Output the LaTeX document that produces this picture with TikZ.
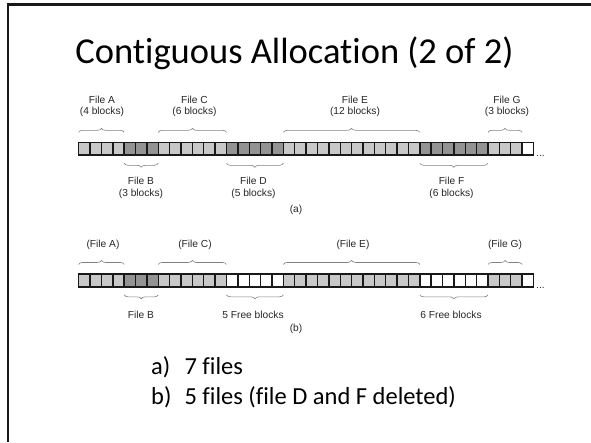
\documentclass[tikz,border=0pt]{standalone}
\usepackage{fontspec}
\setmainfont{Liberation Sans}
\newfontfamily\slidefont[Ligatures={NoCommon,NoRequired,NoContextual}]{Carlito}
\usetikzlibrary{decorations.pathreplacing}
\definecolor{fillL}{HTML}{C8C8C8}
\definecolor{fillD}{HTML}{939393}
\definecolor{fillW}{HTML}{FFFFFF}
\definecolor{bracegray}{HTML}{808080}
\begin{document}
\begin{tikzpicture}[x=1pt,y=-1pt,
  blk/.style={draw=black!90, line width=1.4pt, minimum width=11.37pt,
    minimum height=12.7pt, inner sep=0pt, outer sep=0pt},
  brc/.style={draw=bracegray, line width=0.6pt, decorate,
    decoration={brace, amplitude=4pt, raise=#1}},
  lbl/.style={font=\fontsize{10.2}{11.5}\selectfont, text=black!85,
    align=center, inner sep=0pt},
  bigtitle/.style={font=\slidefont\fontsize{36.5}{40}\selectfont, inner sep=0pt},
  bullet/.style={font=\slidefont\fontsize{24.5}{28}\selectfont, inner sep=0pt, anchor=base west}
]
\useasboundingbox (0,0) rectangle (591,442);

% slide frame
\draw[line width=2.4pt, black!90] (7.8,442) -- (7.8,4.5) -- (591,4.5);

% title
\node[bigtitle, anchor=base] (title) at (294.5,63.3) {Contiguous Allocation (2 of 2)};

% disk (a): seven files
\foreach \c [count=\i from 0] in {L,L,L,L,D,D,D,L,L,L,L,L,L,D,D,D,D,D,
    L,L,L,L,L,L,L,L,L,L,L,L,D,D,D,D,D,D,L,L,L,W}
  \node[blk, fill=fill\c] (a\i) at ({84.385+\i*11.37},148.65) {};
\node[lbl, anchor=base west] (adots) at (536,156.5) {...};

\draw[brc=10pt] (a0.north west) -- (a3.north east);
\draw[brc=10pt] (a7.north west) -- (a12.north east);
\draw[brc=10pt] (a18.north west) -- (a29.north east);
\draw[brc=10pt] (a36.north west) -- (a38.north east);
\draw[brc=8.3pt] (a6.south east) -- (a4.south west);
\draw[brc=8.3pt] (a17.south east) -- (a13.south west);
\draw[brc=8.3pt] (a35.south east) -- (a30.south west);

\node[lbl, anchor=south] (fA) at (102,117.3) {File A\\(4 blocks)};
\node[lbl, anchor=south] (fC) at (194.5,117.3) {File C\\(6 blocks)};
\node[lbl, anchor=south] (fE) at (355,117.3) {File E\\(12 blocks)};
\node[lbl, anchor=south] (fG) at (507,117.3) {File G\\(3 blocks)};
\node[lbl, anchor=north] (fB) at (141,177.3) {File B\\(3 blocks)};
\node[lbl, anchor=north] (fD) at (253.5,177.3) {File D\\(5 blocks)};
\node[lbl, anchor=north] (fF) at (451.5,177.3) {File F\\(6 blocks)};
\node[lbl] (capa) at (296,209.7) {(a)};

% disk (b): files D and F removed
\foreach \c [count=\i from 0] in {L,L,L,L,D,D,D,L,L,L,L,L,L,W,W,W,W,W,
    L,L,L,L,L,L,L,L,L,L,L,L,W,W,W,W,W,W,L,L,L,W}
  \node[blk, fill=fill\c] (b\i) at ({84.385+\i*11.37},280.5) {};
\node[lbl, anchor=base west] (bdots) at (536,288.3) {...};

\draw[brc=9.7pt] (b0.north west) -- (b3.north east);
\draw[brc=9.7pt] (b7.north west) -- (b12.north east);
\draw[brc=9.7pt] (b18.north west) -- (b29.north east);
\draw[brc=9.7pt] (b36.north west) -- (b38.north east);
\draw[brc=8pt] (b6.south east) -- (b4.south west);
\draw[brc=8pt] (b17.south east) -- (b13.south west);
\draw[brc=8pt] (b35.south east) -- (b30.south west);

\node[lbl, anchor=south] (gA) at (103,250) {(File A)};
\node[lbl, anchor=south] (gC) at (195,250) {(File C)};
\node[lbl, anchor=south] (gE) at (353,250) {(File E)};
\node[lbl, anchor=south] (gG) at (505,250) {(File G)};
\node[lbl, anchor=north] (gB) at (141,310.7) {File B};
\node[lbl, anchor=north] (free5) at (253,310.7) {5 Free blocks};
\node[lbl, anchor=north] (free6) at (451,310.7) {6 Free blocks};
\node[lbl] (capb) at (296,329) {(b)};

% notes
\node[bullet] (la) at (151,374) {a)};
\node[bullet] (ta) at (184.3,374) {7 files};
\node[bullet] (lb) at (151,404) {b)};
\node[bullet] (tb) at (184.3,404) {5 files (file D and F deleted)};
\end{tikzpicture}
\end{document}
